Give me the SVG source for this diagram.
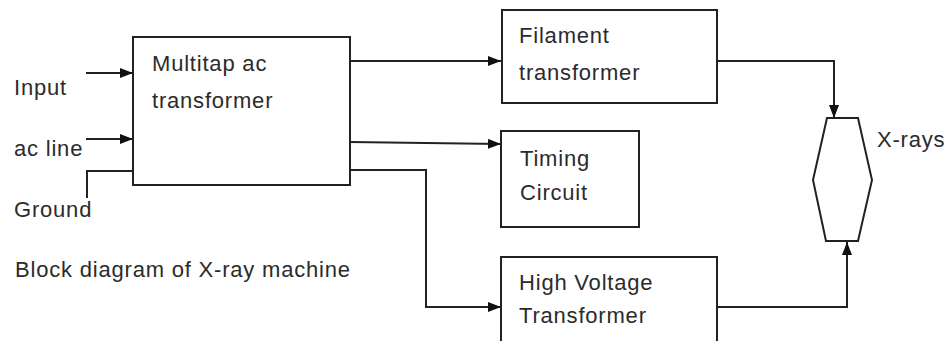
<svg xmlns="http://www.w3.org/2000/svg" width="946" height="341" viewBox="0 0 946 341">
<defs>
<style>
.box{fill:#fff;stroke:#222;stroke-width:2}
.wire{fill:none;stroke:#222;stroke-width:2}
text{font-family:"Liberation Sans",Arial,sans-serif;font-size:22px;fill:#2b2b2b;letter-spacing:0.8px}
</style>
<marker id="arr" markerUnits="userSpaceOnUse" markerWidth="14" markerHeight="11" refX="13" refY="5" orient="auto">
<path d="M0,0 L13,5 L0,10 Z" fill="#111"/>
</marker>
</defs>
<rect width="946" height="341" fill="#fff"/>
<g id="connectors">
<line class="wire" x1="86" y1="73" x2="133" y2="73" marker-end="url(#arr)"/>
<line class="wire" x1="86" y1="139" x2="133" y2="139" marker-end="url(#arr)"/>
<polyline class="wire" points="87,198 87,171 133,171"/>
<line class="wire" x1="350" y1="61" x2="501" y2="61" marker-end="url(#arr)"/>
<line class="wire" x1="350" y1="142" x2="501" y2="144" marker-end="url(#arr)"/>
<polyline class="wire" points="350,170 426,170 426,307 501,307" marker-end="url(#arr)"/>
<polyline class="wire" points="717,61 834,61 834,118" marker-end="url(#arr)"/>
<polyline class="wire" points="717,307 847,307 847,242" marker-end="url(#arr)"/>
</g>
<g id="input-label"><text x="14" y="95">Input</text></g>
<g id="acline-label"><text x="14" y="156">ac line</text></g>
<g id="ground-label"><text x="14" y="217">Ground</text></g>
<g id="multitap">
<rect class="box" x="133" y="37" width="217" height="148"/>
<text x="152" y="71">Multitap ac</text>
<text x="152" y="108">transformer</text>
</g>
<g id="filament">
<rect class="box" x="502" y="10" width="215" height="93"/>
<text x="519" y="43">Filament</text>
<text x="519" y="80">transformer</text>
</g>
<g id="timing">
<rect class="box" x="501" y="131" width="138" height="96"/>
<text x="520" y="166">Timing</text>
<text x="520" y="200">Circuit</text>
</g>
<g id="hv">
<rect class="box" x="501" y="257" width="216" height="100"/>
<text x="519" y="290">High Voltage</text>
<text x="519" y="323">Transformer</text>
</g>
<g id="xray-tube">
<polygon class="box" points="827,118 858,118 872,180 858,241 826,241 813,180"/>
<text x="877" y="147">X-rays</text>
</g>
<g id="caption"><text x="15" y="277">Block diagram of X-ray machine</text></g>
</svg>
